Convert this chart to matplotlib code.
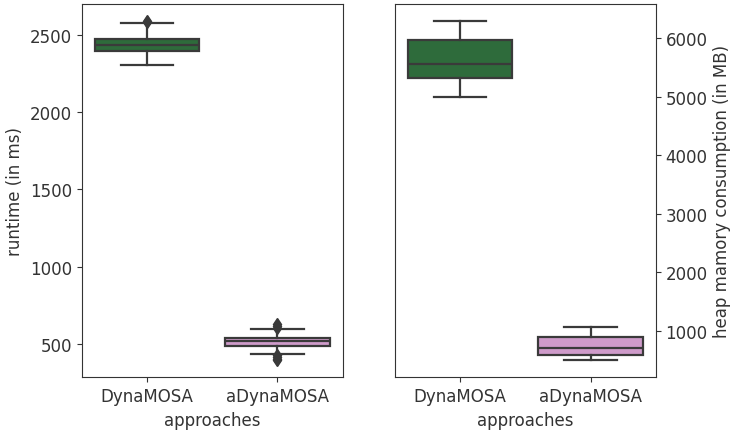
import matplotlib
matplotlib.use("Agg")
import matplotlib.pyplot as plt

categories = ["DynaMOSA", "aDynaMOSA"]
colors = ["#2e6b3b", "#cf9bca"]

# runtime (ms) box statistics
rt_whislo = [2306, 435]
rt_q1 = [2396, 489]
rt_med = [2435, 516]
rt_q3 = [2474, 539]
rt_whishi = [2580, 597]
rt_fliers = [[2586, 2592], [394, 405, 418, 428, 605, 618, 632]]

# heap memory (MB) box statistics
mem_whislo = [4995, 491]
mem_q1 = [5315, 589]
mem_med = [5560, 704]
mem_q3 = [5966, 897]
mem_whishi = [6296, 1063]
mem_fliers = [[], []]


def stats(lo, q1, med, q3, hi, fl):
    return [dict(whislo=lo[i], q1=q1[i], med=med[i], q3=q3[i], whishi=hi[i],
                 fliers=fl[i], label=categories[i]) for i in range(len(categories))]


line_c = "#3a3a3a"
text_c = "#333333"
lw = 1.6
fs = 12

fig = plt.figure(figsize=(7.41, 4.35), dpi=100)
ax1 = fig.add_axes([81.7 / 741, 1 - 378.3 / 435, 261 / 741, (378.3 - 4.7) / 435])
ax2 = fig.add_axes([395 / 741, 1 - 378.3 / 435, 260.7 / 741, (378.3 - 4.7) / 435])


def draw(ax, st):
    bp = ax.bxp(st, positions=range(len(st)), widths=0.8, patch_artist=True,
                showfliers=True,
                boxprops=dict(edgecolor=line_c, linewidth=lw),
                medianprops=dict(color=line_c, linewidth=lw),
                whiskerprops=dict(color=line_c, linewidth=lw),
                capprops=dict(color=line_c, linewidth=lw),
                flierprops=dict(marker="d", markerfacecolor=line_c,
                                markeredgecolor=line_c, markersize=6))
    for patch, c in zip(bp["boxes"], colors):
        patch.set_facecolor(c)
    ax.set_xlim(-0.5, len(st) - 0.5)
    ax.set_xticks(range(len(st)))
    ax.set_xticklabels(categories)
    ax.set_xlabel("approaches", fontsize=fs, color=text_c)
    ax.tick_params(labelsize=fs, colors=text_c)
    for s in ax.spines.values():
        s.set_color(text_c)


draw(ax1, stats(rt_whislo, rt_q1, rt_med, rt_q3, rt_whishi, rt_fliers))
ax1.set_ylabel("runtime (in ms)", fontsize=fs, color=text_c)
ax1.set_yticks([500, 1000, 1500, 2000, 2500])

draw(ax2, stats(mem_whislo, mem_q1, mem_med, mem_q3, mem_whishi, mem_fliers))
ax2.yaxis.tick_right()
ax2.yaxis.set_label_position("right")
ax2.set_ylabel("heap mamory consumption (in MB)", fontsize=fs, color=text_c)
ax2.set_yticks([1000, 2000, 3000, 4000, 5000, 6000])

fig.savefig("out.png", dpi=100)
